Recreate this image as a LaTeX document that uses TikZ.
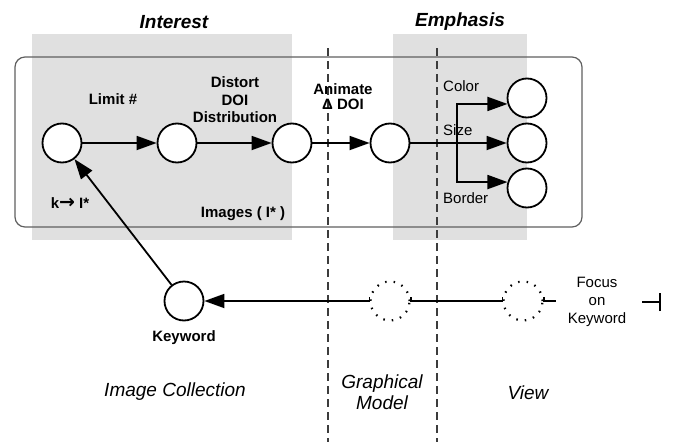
\documentclass[tikz,border=0pt]{standalone}
\usepackage{fontspec}
\setmainfont{Liberation Sans}
\newfontfamily\symfont{DejaVu Sans}
\usetikzlibrary{arrows.meta}
\definecolor{shadegray}{RGB}{224,224,224}
\definecolor{framegray}{RGB}{95,95,95}
\definecolor{divgray}{RGB}{60,60,60}
\begin{document}
\begin{tikzpicture}[x=1pt,y=-1pt,
  stage/.style={circle,draw,line width=1.8pt,minimum size=39pt,inner sep=0pt,fill=white},
  ghost/.style={circle,draw,line width=2.2pt,dash pattern=on 1.5pt off 7pt,minimum size=39pt,inner sep=0pt},
  flow/.style={line width=1.8pt,-{Triangle[length=20pt,width=14pt]}},
  plain/.style={line width=1.8pt},
  lbl/.style={font=\fontsize{15}{17.5}\selectfont\bfseries,align=center,inner sep=0pt},
  sm/.style={font=\fontsize{15}{18}\selectfont,align=center,inner sep=0pt},
  big/.style={font=\fontsize{19}{21}\selectfont\itshape,align=center,inner sep=0pt},
  head/.style={font=\fontsize{19}{22}\selectfont\bfseries\itshape,inner sep=0pt},
  divider/.style={draw=divgray,line width=1.4pt,dash pattern=on 8pt off 5pt}
]
\useasboundingbox (0,0) rectangle (675,442);
% shaded regions
\fill[shadegray] (32,34) rectangle (292,240);
\fill[shadegray] (393,34) rectangle (527,240);
% frame
\draw[framegray,line width=1.2pt,rounded corners=10pt] (15,57) rectangle (582,227);
% dividers
\draw[divider] (328,48) -- (328,442);
\draw[divider] (437,48) -- (437,442);
% headings
\node[head] (interest) at (174,22) {Interest};
\node[head] (emphasis) at (460,22) {Emphasis};
% nodes
\node[stage] (n1) at (62,143) {};
\node[stage] (n2) at (177,143) {};
\node[stage] (n3) at (292,143) {};
\node[stage] (n4) at (390,143) {};
\node[stage] (c1) at (527,98) {};
\node[stage] (c2) at (527,143) {};
\node[stage] (c3) at (527,188) {};
\node[stage] (kw) at (184,301) {};
\node[ghost] (g1) at (390,301) {};
\node[ghost] (g2) at (523,301) {};
% labels
\node[lbl] (limit) at (113,99) {Limit \#};
\node[lbl] (distort) at (235,100) {Distort\\DOI\\Distribution};
\node[lbl,font=\fontsize{15}{15}\selectfont\bfseries] (animate) at (343,97) {Animate\\Δ DOI};
\node[sm,anchor=west] (color) at (443,86) {Color};
\node[sm,anchor=west] (size) at (443,130) {Size};
\node[sm,anchor=west] (border) at (443,198) {Border};
\node[lbl] (kI) at (70,203) {k{\symfont\bfseries\fontsize{19}{16}\selectfont→}\ I*};
\node[lbl] (images) at (243,214) {Images ( I* )};
\node[lbl] (kwl) at (184,338) {Keyword};
\node[sm] (focus) at (597,302) {Focus\\on\\Keyword};
\node[big] (coll) at (175,392) {Image Collection};
\node[big] (gm) at (382,392.5) {Graphical\\Model};
\node[big] (view) at (528,393) {View};
% connectors
\draw[flow] (n1) -- (n2);
\draw[flow] (n2) -- (n3);
\draw[flow] (n3) -- (n4);
\coordinate (br) at (457,143);
\draw[plain] (n4) -- (br);
\draw[flow] (br) -- (c2);
\draw[flow] (br) |- (c1.197);
\draw[flow] (br) |- (c3.163);
\draw[flow] (kw) -- (n1);
\draw[flow] ([yshift=4pt]g1.west) -- (g1.west) -- (kw);
\draw[plain] ([yshift=4pt]g2.west) -- (g2.west) -- (g1.east) -- ([yshift=4pt]g1.east);
\coordinate (stub) at (556,301);
\draw[plain] ([yshift=4pt]g2.east) -- (g2.east) -- (stub);
\coordinate (tA) at (642,302);
\coordinate (tB) at (660,302);
\draw[plain] (tA) -- (tB);
\draw[line width=2.2pt] ([yshift=-9pt]tB) -- ([yshift=9pt]tB);
\end{tikzpicture}
\end{document}
